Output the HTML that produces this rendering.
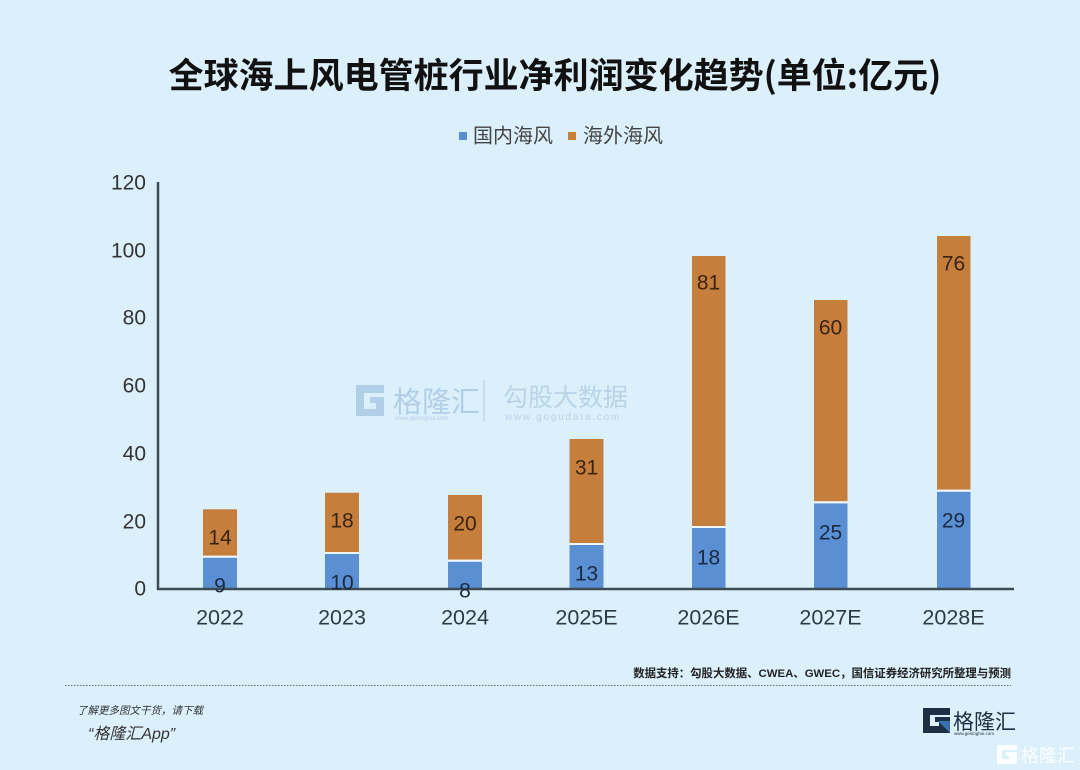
<!DOCTYPE html>
<html><head><meta charset="utf-8">
<style>
html,body{margin:0;padding:0;background:#dcf0fb;}
svg{display:block;}
text{font-family:"Liberation Sans","Noto Sans CJK SC",sans-serif;}
</style></head>
<body>
<svg width="1080" height="770" viewBox="0 0 1080 770" xmlns="http://www.w3.org/2000/svg">
<rect x="0" y="0" width="1080" height="770" fill="#dcf0fb"/>

<!-- Title -->
<text x="555" y="88" text-anchor="middle" font-size="35" font-weight="bold" fill="#111" style="font-family:'Noto Sans CJK SC','Liberation Sans',sans-serif;">全球海上风电管桩行业净利润变化趋势(单位:亿元)</text>

<!-- Legend -->
<rect x="459" y="132" width="8" height="8" fill="#5b8fd4"/>
<text x="473" y="142.5" font-size="20" fill="#444" style="font-family:'Noto Sans CJK SC',sans-serif;">国内海风</text>
<rect x="568" y="132" width="8" height="8" fill="#c67e3d"/>
<text x="583" y="142.5" font-size="20" fill="#444" style="font-family:'Noto Sans CJK SC',sans-serif;">海外海风</text>

<!-- Watermark -->
<g opacity="0.55">
  <path d="M356 385 h28 v8 h-20 v16 h12 v-6 h-6 v-6 h14 v19 h-28 z" fill="#8fb4d8"/>
  <text x="393" y="412" font-size="29" fill="#8fb4d8" style="font-family:'Noto Sans CJK SC',sans-serif;">格隆汇</text>
  <text x="395" y="420" font-size="6" fill="#8fb4d8">www.gelonghui.com</text>
  <line x1="484" y1="380" x2="484" y2="422" stroke="#a9c6e0" stroke-width="1.5"/>
  <text x="503" y="406" font-size="25" fill="#9dbcd8" style="font-family:'Noto Sans CJK SC',sans-serif;">勾股大数据</text>
  <text x="505" y="420" font-size="10" fill="#9dbcd8" letter-spacing="1.8">www.gogudata.com</text>
</g>

<!-- Y tick labels -->
<g font-size="21" fill="#333" text-anchor="end">
  <text x="146" y="189.5">120</text>
  <text x="146" y="257.5">100</text>
  <text x="146" y="324.5">80</text>
  <text x="146" y="392.5">60</text>
  <text x="146" y="460.5">40</text>
  <text x="146" y="528.5">20</text>
  <text x="146" y="595.5">0</text>
</g>

<!-- Bars -->
<g>
  <!-- 2022 -->
  <rect x="203" y="557.7" width="34" height="31.3" fill="#5b8fd4"/>
  <rect x="203" y="509.3" width="34" height="46.4" fill="#c67e3d"/>
  <!-- 2023 -->
  <rect x="325" y="554" width="34" height="35" fill="#5b8fd4"/>
  <rect x="325" y="492.7" width="34" height="59.3" fill="#c67e3d"/>
  <!-- 2024 -->
  <rect x="448" y="561.7" width="34" height="27.3" fill="#5b8fd4"/>
  <rect x="448" y="495" width="34" height="64.7" fill="#c67e3d"/>
  <!-- 2025E -->
  <rect x="569.5" y="545" width="34" height="44" fill="#5b8fd4"/>
  <rect x="569.5" y="439" width="34" height="104" fill="#c67e3d"/>
  <!-- 2026E -->
  <rect x="692" y="528" width="33.5" height="61" fill="#5b8fd4"/>
  <rect x="692" y="256" width="33.5" height="270" fill="#c67e3d"/>
  <!-- 2027E -->
  <rect x="814" y="503.3" width="33.5" height="85.7" fill="#5b8fd4"/>
  <rect x="814" y="300" width="33.5" height="201.3" fill="#c67e3d"/>
  <!-- 2028E -->
  <rect x="937" y="491.7" width="33.5" height="97.3" fill="#5b8fd4"/>
  <rect x="937" y="236" width="33.5" height="253.7" fill="#c67e3d"/>
</g>
<!-- separators -->
<g fill="#eef7fc">
  <rect x="203" y="555.7" width="34" height="2"/>
  <rect x="325" y="552" width="34" height="2"/>
  <rect x="448" y="559.7" width="34" height="2"/>
  <rect x="569.5" y="543" width="34" height="2"/>
  <rect x="692" y="526" width="33.5" height="2"/>
  <rect x="814" y="501.3" width="33.5" height="2"/>
  <rect x="937" y="489.7" width="33.5" height="2"/>
</g>

<!-- Axes -->
<line x1="158" y1="182" x2="158" y2="590" stroke="#3b4c57" stroke-width="2.5"/>
<line x1="157" y1="589" x2="1014" y2="589" stroke="#3b4c57" stroke-width="2.5"/>

<!-- Data labels: blue -->
<g font-size="21" fill="#1b2a40" text-anchor="middle">
  <text x="220" y="592.5">9</text>
  <text x="342" y="589.5">10</text>
  <text x="465" y="597.5">8</text>
  <text x="586.5" y="580.5">13</text>
  <text x="708.5" y="564.5">18</text>
  <text x="830.5" y="539.5">25</text>
  <text x="953.5" y="527.5">29</text>
</g>
<!-- Data labels: orange -->
<g font-size="21" fill="#3a2410" text-anchor="middle">
  <text x="220" y="544.5">14</text>
  <text x="342" y="527.5">18</text>
  <text x="465" y="530.5">20</text>
  <text x="586.5" y="474.5">31</text>
  <text x="708.5" y="289.5">81</text>
  <text x="830.5" y="334.5">60</text>
  <text x="953.5" y="270.5">76</text>
</g>

<!-- X labels -->
<g font-size="21.5" fill="#2e3b45" text-anchor="middle">
  <text x="220" y="624.5">2022</text>
  <text x="342" y="624.5">2023</text>
  <text x="465" y="624.5">2024</text>
  <text x="586.5" y="624.5">2025E</text>
  <text x="708.5" y="624.5">2026E</text>
  <text x="830.5" y="624.5">2027E</text>
  <text x="953.5" y="624.5">2028E</text>
</g>

<!-- Source -->
<text x="1011" y="677" text-anchor="end" font-size="11.4" font-weight="bold" fill="#222" style="font-family:'Liberation Sans','Noto Sans CJK SC',sans-serif;">数据支持：勾股大数据、CWEA、GWEC，国信证券经济研究所整理与预测</text>
<line x1="65" y1="685.5" x2="1011" y2="685.5" stroke="#666" stroke-width="1" stroke-dasharray="1.5,1.5"/>

<!-- Footer left -->
<text x="77" y="714" font-size="10.5" font-style="italic" fill="#333" style="font-family:'Noto Sans CJK SC',sans-serif;">了解更多图文干货，请下载</text>
<text x="88" y="739" font-size="16" font-style="italic" fill="#333" style="font-family:'Liberation Sans','Noto Sans CJK SC',sans-serif;">“格隆汇App”</text>

<!-- Footer logo -->
<path d="M923 708 h27 v7 h-20 v11 h9 v-4 h-4 v-5 h15 v16 h-27 z" fill="#1e2e45"/>
<path d="M938 721 l12 0 l0 12 z" fill="#3b6fb0"/>
<text x="953" y="729" font-size="21" fill="#1e2e45" style="font-family:'Noto Sans CJK SC',sans-serif;">格隆汇</text>
<text x="954" y="735" font-size="4.5" fill="#1e2e45">www.gelonghui.com</text>

<!-- Watermark bottom right -->
<g opacity="0.9">
  <path d="M997 745 h20 v5 h-15 v9 h7 v-3 h-3 v-4 h11 v12 h-20 z" fill="#ffffff"/>
  <text x="1021" y="762" font-size="18" fill="#ffffff" style="font-family:'Noto Sans CJK SC',sans-serif;">格隆汇</text>
</g>
</svg>
</body></html>
